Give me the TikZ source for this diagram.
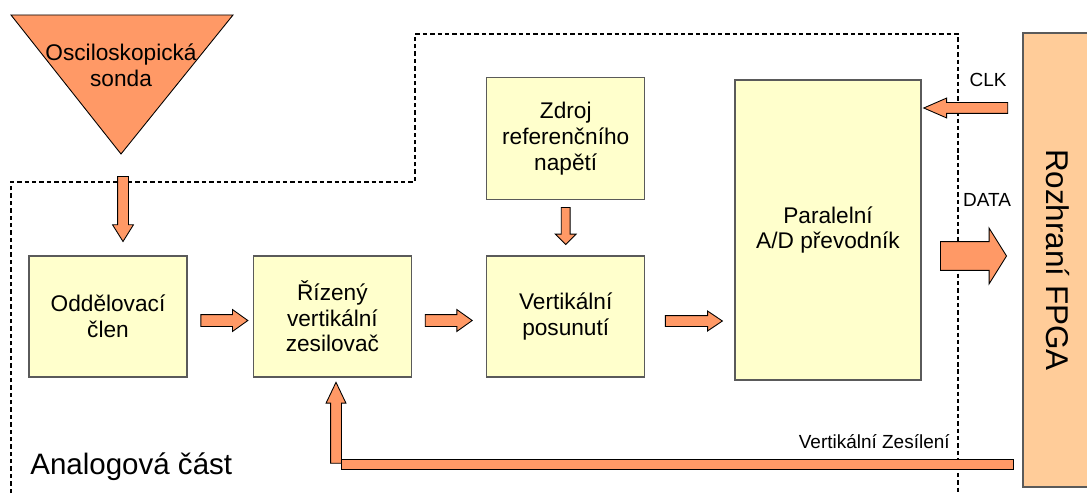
\documentclass[tikz,border=0pt]{standalone}
\usepackage{fontspec}
\setmainfont{Liberation Sans}
\usepackage{xcolor}
\usepackage{tikz}
\usetikzlibrary{shapes.arrows, positioning, calc}
\definecolor{blokfill}{HTML}{FFFFCC}
\definecolor{sipkafill}{HTML}{FF9966}
\definecolor{fpgafill}{HTML}{FFCC99}
\definecolor{okraj}{HTML}{5A5A5A}
\tikzstyle{blok} = [rectangle, minimum width=3.16cm, minimum height=2.42cm, text centered, align=center, draw=okraj, line width=0.8pt, fill=blokfill, font=\fontsize{12.9}{14.6}\selectfont]
\tikzstyle{sipka} = [single arrow, draw=black, fill=sipkafill, line width=0.5pt, inner xsep=0pt, text height=0pt, text depth=0pt]
\tikzstyle{popis} = [inner sep=0pt, font=\fontsize{10.8}{12}\selectfont]
\tikzstyle{hranice} = [line width=0.8pt, dash pattern=on 2.5pt off 1.7pt]

\begin{document}
\begin{tikzpicture}[x=0.02cm, y=-0.02cm]
   \useasboundingbox (0,0) rectangle (1087,493);
   \draw[hranice] (11,493) -- (11,182) -- (415,182) -- (415,34) -- (958,34) -- (958,493);
   \draw[draw=black, line width=0.5pt, fill=sipkafill] (11,15) -- (233,15) -- (121,154) -- cycle;
   \coordinate (apex) at (121,154);
   \node (sonda) [align=center, font=\fontsize{12.9}{14.6}\selectfont] at (121,65) {Osciloskopická\\sonda};
   \node (odd) [blok] at (108,316.5) {Oddělovací\\člen};
   \node (zes) [blok, right=1.3cm of odd] {Řízený\\vertikální\\zesilovač};
   \node (pos) [blok, right=1.48cm of zes] {Vertikální\\posunutí};
   \node (zdroj) [blok, above=1.1cm of pos, minimum height=2.44cm] {Zdroj\\referenčního\\napětí};
   \node (ad) [blok, minimum width=3.72cm, minimum height=6cm] at (828,230) {Paralelní\\A/D převodník};
   \node (fpga) [rectangle, rotate=-90, draw=okraj, line width=0.8pt, fill=fpgafill, minimum width=9.08cm, minimum height=1.4cm, font=\fontsize{17.9}{20}\selectfont] at (1058,260) {Rozhraní FPGA};
   \coordinate (clky) at (0,108);
   \coordinate (datay) at (0,256);
   \node (a1) [sipka, minimum height=0.94cm, inner ysep=0.11cm, single arrow head extend=0.1cm, single arrow tip angle=71, yshift=-0.08cm] at ($(odd.east)!0.5!(zes.west)$) {};
   \node (a2) [sipka, minimum height=0.94cm, inner ysep=0.11cm, single arrow head extend=0.1cm, single arrow tip angle=71, yshift=-0.08cm, xshift=-0.09cm] at ($(zes.east)!0.5!(pos.west)$) {};
   \node (a3) [sipka, minimum height=1.14cm, inner ysep=0.1cm, single arrow head extend=0.09cm, single arrow tip angle=68, yshift=-0.09cm] at ($(pos.east)!0.5!(ad.west|-pos.east)$) {};
   \node (a0) [sipka, rotate=270, minimum height=1.3cm, inner ysep=0.1cm, single arrow head extend=0.1cm, single arrow tip angle=64, yshift=0.04cm] at ($(apex)!0.5!(apex|-odd.north)$) {};
   \node (aref) [sipka, rotate=270, minimum height=0.74cm, inner ysep=0.08cm, single arrow head extend=0.12cm, single arrow tip angle=90, xshift=-0.08cm] at ($(zdroj.south)!0.5!(pos.north)$) {};
   \node (aclk) [sipka, rotate=180, minimum height=1.68cm, inner ysep=0.1cm, single arrow head extend=0.09cm, single arrow tip angle=47] at ($(ad.east|-clky)!0.5!(fpga.south|-clky)$) {};
   \node (adata) [sipka, minimum height=1.32cm, inner ysep=0.28cm, single arrow head extend=0.27cm, single arrow tip angle=116, xshift=-0.06cm] at ($(ad.east|-datay)!0.5!(fpga.south|-datay)$) {};
   \node (clk) [popis] at (988,80) {CLK};
   \node (data) [popis] at (987,200) {DATA};
   \coordinate (fbstart) at (1013,469);
   \coordinate (fbend) at (341,459);
   \draw[draw=black, line width=0.5pt, fill=sipkafill] (fbstart) rectangle (fbend);
   \node (afb) [sipka, rotate=90, minimum height=1.62cm, inner ysep=0.1cm, single arrow head extend=0.09cm, single arrow tip angle=51] at (336,428.5) {};
   \node (zesileni) [popis, anchor=east] at (950,442) {Vertikální Zesílení};
   \node (analog) [inner sep=0pt, anchor=west, font=\fontsize{16.8}{18}\selectfont] at (30,467) {Analogová část};
\end{tikzpicture}
\end{document}
